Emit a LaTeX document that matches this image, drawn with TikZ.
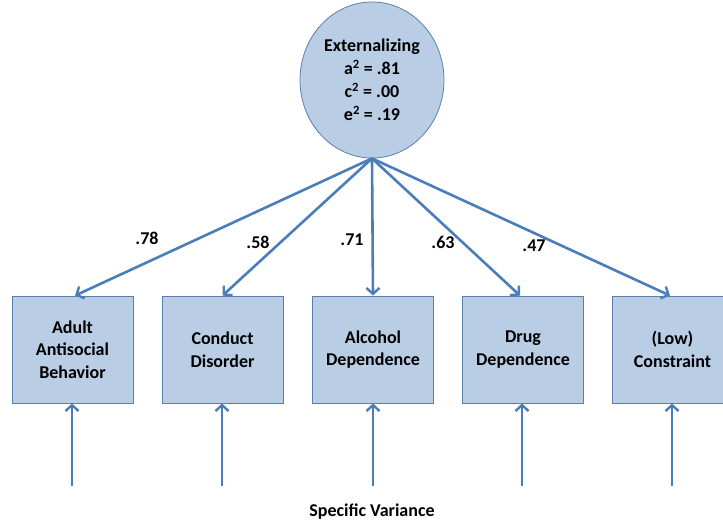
\documentclass[tikz,border=0pt]{standalone}
\usepackage{fontspec}
\setmainfont{Carlito}
\usetikzlibrary{arrows.meta,shapes.geometric}
\definecolor{boxfill}{HTML}{B9CDE5}
\definecolor{boxline}{HTML}{5A7FAE}
\definecolor{arrowblue}{HTML}{4A7EBB}
\tikzset{
  measure/.style={draw=boxline, line width=0.8pt, fill=boxfill, minimum width=121pt, minimum height=107pt,
    align=center, font=\fontsize{18}{22.5}\selectfont\bfseries, inner sep=0pt},
  factor/.style={draw=boxline, line width=0.8pt, fill=boxfill, ellipse, minimum width=144pt, minimum height=156pt,
    align=center, font=\fontsize{18}{23}\selectfont\bfseries, inner sep=0pt},
  path arrow/.style={draw=arrowblue, line width=2.6pt, -{Straight Barb[length=6pt, width=13pt, line width=2.4pt]}},
  coef/.style={font=\fontsize{18}{20}\selectfont\bfseries, inner sep=0pt}
}
\begin{document}
\begin{tikzpicture}[x=1pt, y=-1pt]
  \useasboundingbox (0,0) rectangle (723,524);

  % latent factor
  \node[factor] (ext) at (372,80) {Externalizing\\a\textsuperscript{2} = .81\\c\textsuperscript{2} = .00\\e\textsuperscript{2} = .19};

  % observed measures
  \node[measure] (aab) at (72.5,349.5) {Adult\\Antisocial\\Behavior};
  \node[measure] (cd)  at (222.5,349.5) {Conduct\\Disorder};
  \node[measure] (ad)  at (373,349.5) {Alcohol\\Dependence};
  \node[measure] (dd)  at (523,349.5) {Drug\\Dependence};
  \node[measure] (lc)  at (672.5,349.5) {(Low)\\Constraint};

  % loadings
  \coordinate (src) at (ext.south);
  \draw[path arrow] (src) -- (aab.north -| 75,0);
  \draw[path arrow] (src) -- (cd.north);
  \draw[path arrow] (src) -- (ad.north);
  \draw[path arrow] (src) -- (dd.north -| 520,0);
  \draw[path arrow] (src) -- (lc.north -| 670,0);

  \node[coef] (l1) at (147,238) {.78};
  \node[coef] (l2) at (258,242) {.58};
  \node[coef] (l3) at (352,240) {.71};
  \node[coef] (l4) at (443,242) {.63};
  \node[coef] (l5) at (534,246) {.47};

  % specific variance inputs
  \foreach \m/\x in {aab/72, cd/222, ad/373, dd/522, lc/672} {
    \coordinate (sv-\m) at (\x,486);
    \draw[path arrow] (sv-\m) -- (\m.south -| sv-\m);
  }

  \node[coef] (sv) at (372,512) {Specific Variance};
\end{tikzpicture}
\end{document}
